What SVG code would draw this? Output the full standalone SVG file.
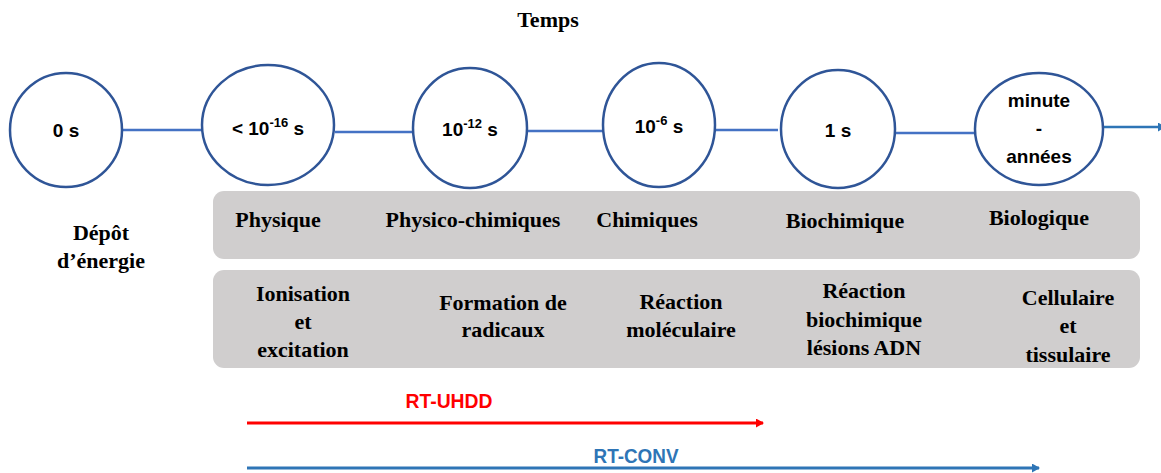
<svg xmlns="http://www.w3.org/2000/svg" width="1161" height="473" viewBox="0 0 1161 473">
<defs>
<style>
.circ{fill:#fff;stroke:#2F5597;stroke-width:2.5}
.conn{stroke:#4472C4;stroke-width:2.5;fill:none}
.ct{font-family:"Liberation Sans",Arial,sans-serif;font-weight:bold;font-size:19px;fill:#000;text-anchor:middle}
.sup{font-size:13px}
.st{font-family:"Liberation Serif","Times New Roman",serif;font-weight:bold;font-size:22px;fill:#000;text-anchor:middle}
.box{fill:#D0CECE}
.rt{font-family:"Liberation Sans",Arial,sans-serif;font-weight:bold;font-size:21px;text-anchor:middle}
</style>
<marker id="ab" markerWidth="8" markerHeight="9" refX="7" refY="4.5" orient="auto" markerUnits="userSpaceOnUse"><path d="M0,0 L8,4.5 L0,9 z" fill="#2E75B6"/></marker>
<marker id="ar" markerWidth="8" markerHeight="9" refX="7" refY="4.5" orient="auto" markerUnits="userSpaceOnUse"><path d="M0,0 L8,4.5 L0,9 z" fill="#FF0000"/></marker>
</defs>
<text class="st" x="548" y="27">Temps</text>
<g id="connectors">
<line class="conn" x1="123" y1="130" x2="201" y2="130"/>
<line class="conn" x1="335" y1="132" x2="413" y2="132"/>
<line class="conn" x1="527" y1="131" x2="603" y2="131"/>
<line class="conn" x1="715" y1="130" x2="778" y2="130"/>
<line class="conn" x1="895" y1="133" x2="975" y2="133"/>
<line x1="1104" y1="127" x2="1165" y2="127" stroke="#2E75B6" stroke-width="2.5" marker-end="url(#ab)"/>
</g>
<g id="n0"><ellipse class="circ" cx="66" cy="130" rx="56" ry="57"/><text class="ct" x="66" y="137">0 s</text></g>
<g id="n1"><ellipse class="circ" cx="268" cy="125" rx="66" ry="60"/><text class="ct" x="268" y="135">&lt; 10<tspan class="sup" dy="-8">-16</tspan><tspan dy="8"> s</tspan></text></g>
<g id="n2"><ellipse class="circ" cx="470" cy="128" rx="57" ry="60"/><text class="ct" x="470" y="136">10<tspan class="sup" dy="-8">-12</tspan><tspan dy="8"> s</tspan></text></g>
<g id="n3"><ellipse class="circ" cx="659" cy="125" rx="56" ry="62"/><text class="ct" x="659" y="133">10<tspan class="sup" dy="-8">-6</tspan><tspan dy="8"> s</tspan></text></g>
<g id="n4"><ellipse class="circ" cx="838" cy="129" rx="57" ry="59"/><text class="ct" x="838" y="137">1 s</text></g>
<g id="n5"><ellipse class="circ" cx="1039" cy="129" rx="64" ry="56"/><text class="ct" x="1039" y="107">minute</text><text class="ct" x="1039" y="135">-</text><text class="ct" x="1039" y="163">années</text></g>
<g id="depot"><text class="st" x="101" y="240">Dépôt</text><text class="st" x="101" y="268">d’énergie</text></g>
<g id="box1">
<rect class="box" x="213" y="191" width="927" height="68" rx="11"/>
<text class="st" x="278" y="227">Physique</text>
<text class="st" x="473" y="227">Physico-chimiques</text>
<text class="st" x="647" y="227">Chimiques</text>
<text class="st" x="845" y="228">Biochimique</text>
<text class="st" x="1039" y="225">Biologique</text>
</g>
<g id="box2">
<rect class="box" x="213" y="270" width="927" height="98" rx="11"/>
<text class="st" x="303" y="301">Ionisation</text>
<text class="st" x="303" y="329">et</text>
<text class="st" x="303" y="357">excitation</text>
<text class="st" x="503" y="310">Formation de</text>
<text class="st" x="503" y="337">radicaux</text>
<text class="st" x="681" y="309">Réaction</text>
<text class="st" x="681" y="337">moléculaire</text>
<text class="st" x="864" y="298">Réaction</text>
<text class="st" x="864" y="327">biochimique</text>
<text class="st" x="864" y="355">lésions ADN</text>
<text class="st" x="1068" y="305">Cellulaire</text>
<text class="st" x="1068" y="333">et</text>
<text class="st" x="1068" y="362">tissulaire</text>
</g>
<g id="rt-uhdd">
<text class="rt" x="449" y="408" fill="#FF0000" textLength="87" lengthAdjust="spacingAndGlyphs">RT-UHDD</text>
<line x1="247" y1="423" x2="763" y2="423" stroke="#FF0000" stroke-width="3" marker-end="url(#ar)"/>
</g>
<g id="rt-conv">
<text class="rt" x="636" y="463" fill="#2E75B6" textLength="85" lengthAdjust="spacingAndGlyphs">RT-CONV</text>
<line x1="247" y1="468" x2="1039" y2="468" stroke="#2E75B6" stroke-width="3" marker-end="url(#ab)"/>
</g>
</svg>
